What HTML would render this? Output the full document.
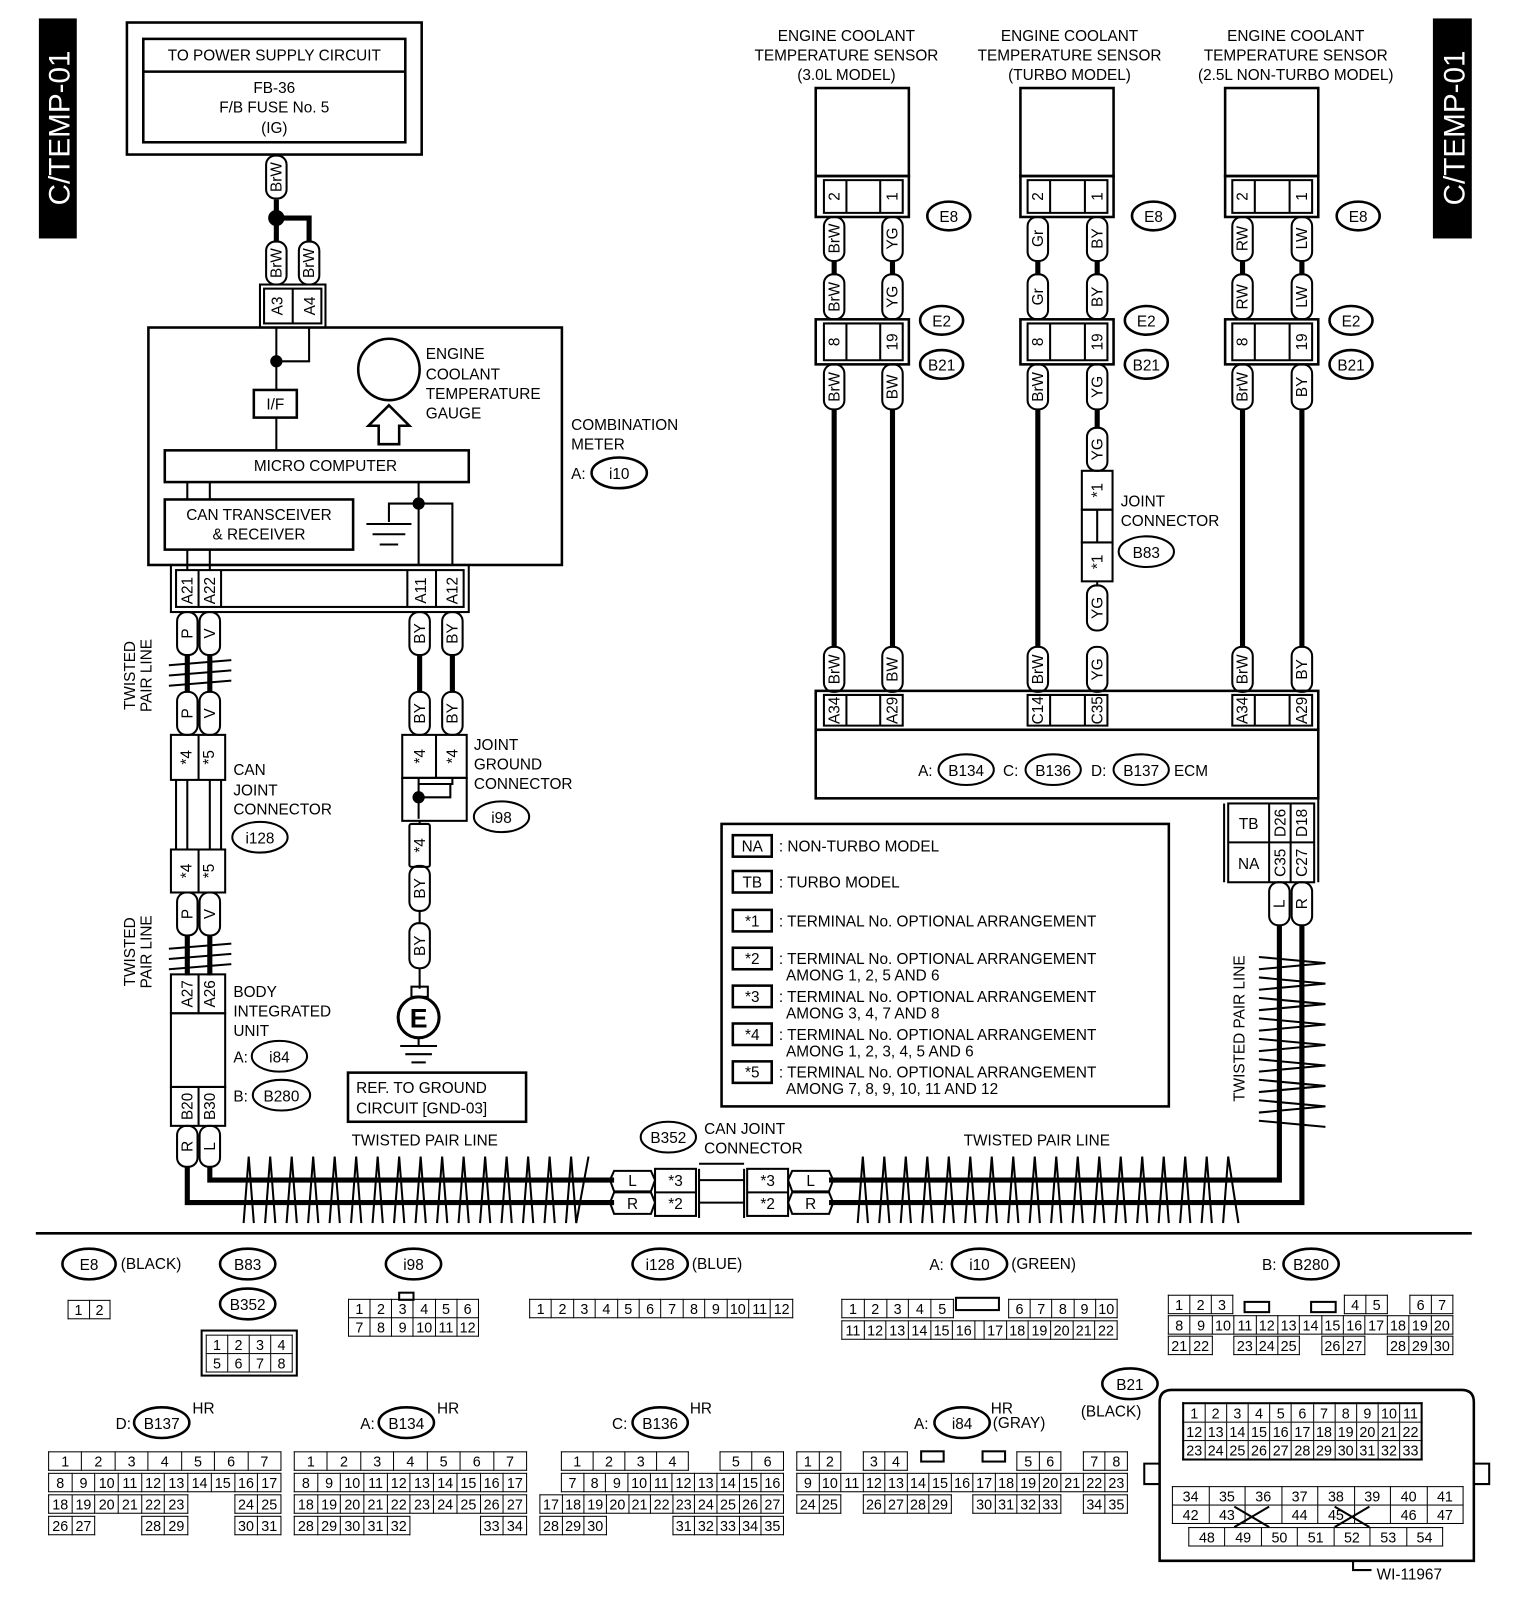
<!DOCTYPE html>
<html><head><meta charset="utf-8"><style>
html,body{margin:0;padding:0;background:#fff;width:1520px;height:1604px;overflow:hidden;}
#w{position:relative;width:1520px;height:1604px;font-family:"Liberation Sans",sans-serif;transform:scale(1.0235);transform-origin:0 0;}
svg{position:absolute;left:0;top:0;}
svg text{font-family:"Liberation Sans",sans-serif;font-size:15px;fill:#000;}
.c{text-anchor:middle;}
.g{position:absolute;border-collapse:collapse;table-layout:fixed;font:14px "Liberation Sans",sans-serif;}
.g td{border:1.6px solid #000;height:17px;padding:0;text-align:center;line-height:16px;overflow:hidden;white-space:nowrap;}
.g td.e{border-left:none;border-right:none;border-top:none;border-bottom:none;}
</style></head><body><div id="w">
<svg width="1520" height="1604" viewBox="0 0 1520 1604" fill="none" stroke="#000" stroke-width="2">
<rect x="38" y="18" width="37" height="215" fill="#000" stroke="none"/>
<text transform="translate(68,125) rotate(-90)" class="c" style="fill:#fff;font-size:29px;" stroke="none">C/TEMP-01</text>
<rect x="1400" y="18" width="38" height="215" fill="#000" stroke="none"/>
<text transform="translate(1431,125) rotate(-90)" class="c" style="fill:#fff;font-size:29px;" stroke="none">C/TEMP-01</text>

<rect x="124" y="22" width="288" height="129" stroke-width="2.5"/>
<rect x="140" y="38" width="256" height="101" stroke-width="2.5"/>
<line x1="140" y1="70" x2="396" y2="70" stroke-width="2.5"/>
<g stroke="none">
<text x="268" y="59" class="c">TO POWER SUPPLY CIRCUIT</text>
<text x="268" y="91" class="c">FB-36</text>
<text x="268" y="110" class="c">F/B FUSE No. 5</text>
<text x="268" y="130" class="c">(IG)</text>
</g>

<g stroke-width="5">
<polyline points="270,195 270,213 302,213 302,236"/>
<line x1="270" y1="213" x2="270" y2="236"/>
<line x1="183" y1="640" x2="183" y2="676"/><line x1="205" y1="640" x2="205" y2="676"/>
<line x1="183" y1="913" x2="183" y2="953"/><line x1="205" y1="913" x2="205" y2="953"/>
<line x1="410" y1="640" x2="410" y2="676"/><line x1="442" y1="640" x2="442" y2="676"/>
<polyline points="183,1140 183,1175 600,1175"/>
<polyline points="205,1140 205,1153 600,1153"/>
<polyline points="810,1153 1250,1153 1250,904"/>
<polyline points="810,1175 1272,1175 1272,904"/>
<line x1="815" y1="400" x2="815" y2="632"/><line x1="872" y1="400" x2="872" y2="632"/>
<line x1="1014" y1="400" x2="1014" y2="632"/><line x1="1072" y1="400" x2="1072" y2="418"/>
<line x1="1214" y1="400" x2="1214" y2="632"/><line x1="1272" y1="400" x2="1272" y2="632"/>
<line x1="815" y1="255" x2="815" y2="268"/><line x1="872" y1="255" x2="872" y2="268"/>
<line x1="1014" y1="255" x2="1014" y2="268"/><line x1="1072" y1="255" x2="1072" y2="268"/>
<line x1="1214" y1="255" x2="1214" y2="268"/><line x1="1272" y1="255" x2="1272" y2="268"/>
</g>
<circle cx="270" cy="213" r="7" fill="#000"/>

<rect x="254" y="278" width="64" height="42"/><rect x="258" y="282" width="56" height="34"/>
<line x1="286" y1="282" x2="286" y2="316"/>
<text transform="translate(276,299) rotate(-90)" class="c" stroke="none">A3</text>
<text transform="translate(308,299) rotate(-90)" class="c" stroke="none">A4</text>

<rect x="145" y="320" width="404" height="232" stroke-width="2.5"/>
<polyline points="270,320 270,381"/><polyline points="302,320 302,353 270,353"/>
<circle cx="270" cy="353" r="5" fill="#000"/>
<rect x="248" y="381" width="42" height="27" stroke-width="2.5"/>
<text x="269" y="400" class="c" stroke="none">I/F</text>
<line x1="270" y1="408" x2="270" y2="440"/>
<circle cx="380" cy="361" r="30" stroke-width="2.5"/>
<polygon points="380,396 400,416 390,416 390,434 370,434 370,416 360,416" stroke-width="2.5"/>
<g stroke="none"><text x="416" y="351">ENGINE</text><text x="416" y="371">COOLANT</text><text x="416" y="390">TEMPERATURE</text><text x="416" y="409">GAUGE</text>
<text x="558" y="420">COMBINATION</text><text x="558" y="439">METER</text><text x="558" y="468">A:</text></g>
<ellipse cx="605" cy="462" rx="27" ry="15" stroke-width="2.5"/><text x="605" y="468" class="c" stroke="none">i10</text>
<rect x="161" y="440" width="297" height="31" stroke-width="2.5"/>
<text x="318" y="460" class="c" stroke="none">MICRO COMPUTER</text>
<rect x="161" y="488" width="184" height="49" stroke-width="2.5"/>
<text x="253" y="508" class="c" stroke="none">CAN TRANSCEIVER</text>
<text x="253" y="527" class="c" stroke="none">&amp; RECEIVER</text>
<line x1="183" y1="471" x2="183" y2="488"/><line x1="205" y1="471" x2="205" y2="488"/>
<line x1="183" y1="537" x2="183" y2="557"/><line x1="205" y1="537" x2="205" y2="557"/>
<polyline points="409,471 409,552"/><polyline points="409,492 442,492 442,552"/>
<polyline points="409,492 380,492 380,510"/>
<line x1="358" y1="512" x2="402" y2="512"/><line x1="364" y1="522" x2="396" y2="522"/><line x1="371" y1="532" x2="389" y2="532"/>
<circle cx="409" cy="492" r="5" fill="#000"/>

<rect x="167" y="552" width="291" height="46"/>
<rect x="172" y="557" width="281" height="36"/>
<line x1="194" y1="557" x2="194" y2="593"/><line x1="216" y1="557" x2="216" y2="593"/>
<line x1="398" y1="557" x2="398" y2="593"/><line x1="426" y1="557" x2="426" y2="593"/>
<g stroke="none">
<text transform="translate(188,577) rotate(-90)" class="c">A21</text>
<text transform="translate(210,577) rotate(-90)" class="c">A22</text>
<text transform="translate(416,577) rotate(-90)" class="c">A11</text>
<text transform="translate(447,577) rotate(-90)" class="c">A12</text>
</g>

<g stroke-width="2">
<rect x="260" y="152" width="20" height="42" rx="9"/>
<rect x="260" y="236" width="20" height="42" rx="9"/><rect x="292" y="236" width="20" height="42" rx="9"/>
<rect x="173" y="598" width="20" height="42" rx="9"/><rect x="195" y="598" width="20" height="42" rx="9"/>
<rect x="173" y="676" width="20" height="42" rx="9"/><rect x="195" y="676" width="20" height="42" rx="9"/>
<rect x="173" y="872" width="20" height="42" rx="9"/><rect x="195" y="872" width="20" height="42" rx="9"/>
<rect x="173" y="1100" width="20" height="40" rx="9"/><rect x="195" y="1100" width="20" height="40" rx="9"/>
<rect x="400" y="598" width="20" height="42" rx="9"/><rect x="432" y="598" width="20" height="42" rx="9"/>
<rect x="400" y="676" width="20" height="42" rx="9"/><rect x="432" y="676" width="20" height="42" rx="9"/>
<rect x="400" y="846" width="20" height="44" rx="9"/>
<rect x="400" y="902" width="20" height="44" rx="9"/>
<rect x="805" y="212" width="20" height="43" rx="9"/><rect x="862" y="212" width="20" height="43" rx="9"/>
<rect x="805" y="268" width="20" height="44" rx="9"/><rect x="862" y="268" width="20" height="44" rx="9"/>
<rect x="805" y="356" width="20" height="44" rx="9"/><rect x="862" y="356" width="20" height="44" rx="9"/>
<rect x="805" y="632" width="20" height="44" rx="9"/><rect x="862" y="632" width="20" height="44" rx="9"/>
<rect x="1004" y="212" width="20" height="43" rx="9"/><rect x="1062" y="212" width="20" height="43" rx="9"/>
<rect x="1004" y="268" width="20" height="44" rx="9"/><rect x="1062" y="268" width="20" height="44" rx="9"/>
<rect x="1004" y="356" width="20" height="44" rx="9"/><rect x="1062" y="356" width="20" height="44" rx="9"/>
<rect x="1004" y="632" width="20" height="44" rx="9"/><rect x="1062" y="632" width="20" height="44" rx="9"/>
<rect x="1062" y="418" width="20" height="42" rx="9"/><rect x="1062" y="572" width="20" height="44" rx="9"/>
<rect x="1204" y="212" width="20" height="43" rx="9"/><rect x="1262" y="212" width="20" height="43" rx="9"/>
<rect x="1204" y="268" width="20" height="44" rx="9"/><rect x="1262" y="268" width="20" height="44" rx="9"/>
<rect x="1204" y="356" width="20" height="44" rx="9"/><rect x="1262" y="356" width="20" height="44" rx="9"/>
<rect x="1204" y="632" width="20" height="44" rx="9"/><rect x="1262" y="632" width="20" height="44" rx="9"/>
<rect x="1240" y="862" width="20" height="42" rx="9"/><rect x="1262" y="862" width="20" height="42" rx="9"/>
</g>
<g stroke="none">
<text transform="translate(275,173) rotate(-90)" class="c">BrW</text>
<text transform="translate(275,257) rotate(-90)" class="c">BrW</text><text transform="translate(307,257) rotate(-90)" class="c">BrW</text>
<text transform="translate(188,619) rotate(-90)" class="c">P</text><text transform="translate(210,619) rotate(-90)" class="c">V</text>
<text transform="translate(188,697) rotate(-90)" class="c">P</text><text transform="translate(210,697) rotate(-90)" class="c">V</text>
<text transform="translate(188,893) rotate(-90)" class="c">P</text><text transform="translate(210,893) rotate(-90)" class="c">V</text>
<text transform="translate(188,1120) rotate(-90)" class="c">R</text><text transform="translate(210,1120) rotate(-90)" class="c">L</text>
<text transform="translate(415,619) rotate(-90)" class="c">BY</text><text transform="translate(447,619) rotate(-90)" class="c">BY</text>
<text transform="translate(415,697) rotate(-90)" class="c">BY</text><text transform="translate(447,697) rotate(-90)" class="c">BY</text>
<text transform="translate(415,868) rotate(-90)" class="c">BY</text>
<text transform="translate(415,924) rotate(-90)" class="c">BY</text>
<text transform="translate(820,233) rotate(-90)" class="c">BrW</text><text transform="translate(877,233) rotate(-90)" class="c">YG</text>
<text transform="translate(820,290) rotate(-90)" class="c">BrW</text><text transform="translate(877,290) rotate(-90)" class="c">YG</text>
<text transform="translate(820,378) rotate(-90)" class="c">BrW</text><text transform="translate(877,378) rotate(-90)" class="c">BW</text>
<text transform="translate(820,654) rotate(-90)" class="c">BrW</text><text transform="translate(877,654) rotate(-90)" class="c">BW</text>
<text transform="translate(1019,233) rotate(-90)" class="c">Gr</text><text transform="translate(1077,233) rotate(-90)" class="c">BY</text>
<text transform="translate(1019,290) rotate(-90)" class="c">Gr</text><text transform="translate(1077,290) rotate(-90)" class="c">BY</text>
<text transform="translate(1019,378) rotate(-90)" class="c">BrW</text><text transform="translate(1077,378) rotate(-90)" class="c">YG</text>
<text transform="translate(1019,654) rotate(-90)" class="c">BrW</text><text transform="translate(1077,654) rotate(-90)" class="c">YG</text>
<text transform="translate(1077,439) rotate(-90)" class="c">YG</text><text transform="translate(1077,594) rotate(-90)" class="c">YG</text>
<text transform="translate(1219,233) rotate(-90)" class="c">RW</text><text transform="translate(1277,233) rotate(-90)" class="c">LW</text>
<text transform="translate(1219,290) rotate(-90)" class="c">RW</text><text transform="translate(1277,290) rotate(-90)" class="c">LW</text>
<text transform="translate(1219,378) rotate(-90)" class="c">BrW</text><text transform="translate(1277,378) rotate(-90)" class="c">BY</text>
<text transform="translate(1219,654) rotate(-90)" class="c">BrW</text><text transform="translate(1277,654) rotate(-90)" class="c">BY</text>
<text transform="translate(1255,883) rotate(-90)" class="c">L</text><text transform="translate(1277,883) rotate(-90)" class="c">R</text>
</g>

<path d="M165,650 L226,645 M165,660 L226,655 M165,670 L226,665 M165,927 L226,922 M165,937 L226,932 M165,947 L226,942"/>
<text transform="translate(132,660) rotate(-90)" class="c" stroke="none">TWISTED</text>
<text transform="translate(148,660) rotate(-90)" class="c" stroke="none">PAIR LINE</text>
<text transform="translate(132,930) rotate(-90)" class="c" stroke="none">TWISTED</text>
<text transform="translate(148,930) rotate(-90)" class="c" stroke="none">PAIR LINE</text>

<rect x="167" y="718" width="53" height="44"/><line x1="194" y1="718" x2="194" y2="762"/>
<line x1="172" y1="762" x2="172" y2="830"/><line x1="183" y1="762" x2="183" y2="830"/><line x1="205" y1="762" x2="205" y2="830"/><line x1="216" y1="762" x2="216" y2="830"/>
<rect x="167" y="830" width="53" height="42"/><line x1="194" y1="830" x2="194" y2="872"/>
<g stroke="none">
<text transform="translate(187,740) rotate(-90)" class="c">*4</text><text transform="translate(209,740) rotate(-90)" class="c">*5</text>
<text transform="translate(187,851) rotate(-90)" class="c">*4</text><text transform="translate(209,851) rotate(-90)" class="c">*5</text>
<text x="228" y="757">CAN</text><text x="228" y="777">JOINT</text><text x="228" y="796">CONNECTOR</text>
</g>
<ellipse cx="254" cy="818" rx="27" ry="15"/><text x="254" y="824" class="c" stroke="none">i128</text>

<rect x="167" y="952" width="53" height="38"/><line x1="194" y1="952" x2="194" y2="990"/>
<rect x="167" y="990" width="53" height="72"/>
<rect x="167" y="1062" width="53" height="38"/><line x1="194" y1="1062" x2="194" y2="1100"/>
<g stroke="none">
<text transform="translate(188,971) rotate(-90)" class="c">A27</text><text transform="translate(210,971) rotate(-90)" class="c">A26</text>
<text transform="translate(188,1081) rotate(-90)" class="c">B20</text><text transform="translate(210,1081) rotate(-90)" class="c">B30</text>
<text x="228" y="974">BODY</text><text x="228" y="993">INTEGRATED</text><text x="228" y="1012">UNIT</text>
<text x="228" y="1038">A:</text><text x="228" y="1076">B:</text>
</g>
<ellipse cx="273" cy="1032" rx="27" ry="15"/><text x="273" y="1038" class="c" stroke="none">i84</text>
<ellipse cx="275" cy="1070" rx="28" ry="15"/><text x="275" y="1076" class="c" stroke="none">B280</text>

<rect x="393" y="718" width="63" height="42"/><line x1="426" y1="718" x2="426" y2="760"/>
<rect x="393" y="760" width="63" height="42"/>
<polyline points="409,760 409,800"/><polyline points="442,760 442,766 409,766"/>
<polyline points="409,779 440,779 440,766"/>
<circle cx="409" cy="779" r="5" fill="#000"/>
<rect x="400" y="805" width="20" height="42" rx="2"/>
<line x1="410" y1="802" x2="410" y2="805"/>
<g stroke="none">
<text transform="translate(415,739) rotate(-90)" class="c">*4</text><text transform="translate(447,739) rotate(-90)" class="c">*4</text>
<text transform="translate(415,826) rotate(-90)" class="c">*4</text>
<text x="463" y="733">JOINT</text><text x="463" y="752">GROUND</text><text x="463" y="771">CONNECTOR</text>
</g>
<ellipse cx="490" cy="798" rx="27" ry="15"/><text x="490" y="804" class="c" stroke="none">i98</text>
<line x1="410" y1="890" x2="410" y2="902"/>
<line x1="410" y1="946" x2="410" y2="966"/><rect x="402" y="964" width="16" height="10"/>
<circle cx="409" cy="994" r="20" stroke-width="3"/>
<text x="409" y="1004" class="c" stroke="none" style="font-size:26px;font-weight:bold">E</text>
<line x1="409" y1="1014" x2="409" y2="1022"/>
<line x1="391" y1="1022" x2="427" y2="1022"/><line x1="396" y1="1030" x2="422" y2="1030"/><line x1="402" y1="1038" x2="416" y2="1038"/>
<rect x="340" y="1048" width="174" height="48" stroke-width="2.5"/>
<text x="348" y="1068" stroke="none">REF. TO GROUND</text>
<text x="348" y="1088" stroke="none">CIRCUIT [GND-03]</text>

<text x="415" y="1119" class="c" stroke="none">TWISTED PAIR LINE</text>
<text x="1013" y="1119" class="c" stroke="none">TWISTED PAIR LINE</text>
<path d="M238,1195 L243,1130 L248,1195 M259,1195 L264,1130 L269,1195 M280,1195 L285,1130 L290,1195 M301,1195 L306,1130 L311,1195 M322,1195 L327,1130 L332,1195 M343,1195 L348,1130 L353,1195 M364,1195 L369,1130 L374,1195 M385,1195 L390,1130 L395,1195 M406,1195 L411,1130 L416,1195 M427,1195 L432,1130 L437,1195 M448,1195 L453,1130 L458,1195 M469,1195 L474,1130 L479,1195 M490,1195 L495,1130 L500,1195 M511,1195 L516,1130 L521,1195 M532,1195 L537,1130 L542,1195 M553,1195 L558,1130 L563,1195 L575,1130"/>
<path d="M838,1195 L843,1130 L848,1195 M859,1195 L864,1130 L869,1195 M880,1195 L885,1130 L890,1195 M901,1195 L906,1130 L911,1195 M922,1195 L927,1130 L932,1195 M943,1195 L948,1130 L953,1195 M964,1195 L969,1130 L974,1195 M985,1195 L990,1130 L995,1195 M1006,1195 L1011,1130 L1016,1195 M1027,1195 L1032,1130 L1037,1195 M1048,1195 L1053,1130 L1058,1195 M1069,1195 L1074,1130 L1079,1195 M1090,1195 L1095,1130 L1100,1195 M1111,1195 L1116,1130 L1121,1195 M1132,1195 L1137,1130 L1142,1195 M1153,1195 L1158,1130 L1163,1195 M1174,1195 L1179,1130 L1184,1195 M1195,1195 L1200,1130 L1210,1195"/>
<path d="M1230,935 L1295,941 L1230,947 M1230,955 L1295,961 L1230,967 M1230,975 L1295,981 L1230,987 M1230,995 L1295,1001 L1230,1007 M1230,1015 L1295,1021 L1230,1027 M1230,1035 L1295,1041 L1230,1047 M1230,1055 L1295,1061 L1230,1067 M1230,1075 L1295,1081 L1230,1087 M1230,1095 L1295,1101"/>
<text transform="translate(1216,1005) rotate(-90)" class="c" stroke="none">TWISTED PAIR LINE</text>

<ellipse cx="653" cy="1111" rx="27" ry="15"/><text x="653" y="1117" class="c" stroke="none">B352</text>
<text x="688" y="1108" stroke="none">CAN JOINT</text><text x="688" y="1127" stroke="none">CONNECTOR</text>
<path d="M600,1144 L636,1144 L640,1153 L636,1164 L600,1164 L596,1153 Z M600,1165 L636,1165 L640,1175 L636,1186 L600,1186 L596,1175 Z"/>
<path d="M774,1144 L810,1144 L814,1153 L810,1164 L774,1164 L770,1153 Z M774,1165 L810,1165 L814,1175 L810,1186 L774,1186 L770,1175 Z"/>
<rect x="640" y="1142" width="40" height="46"/><line x1="640" y1="1165" x2="680" y2="1165"/>
<rect x="730" y="1142" width="40" height="46"/><line x1="730" y1="1165" x2="770" y2="1165"/>
<line x1="683" y1="1137" x2="727" y2="1137"/>
<line x1="683" y1="1142" x2="683" y2="1190"/><line x1="727" y1="1142" x2="727" y2="1190"/>
<line x1="683" y1="1153" x2="727" y2="1153"/><line x1="683" y1="1175" x2="727" y2="1175"/>
<g stroke="none">
<text x="618" y="1159" class="c">L</text><text x="618" y="1181" class="c">R</text>
<text x="660" y="1159" class="c">*3</text><text x="660" y="1181" class="c">*2</text>
<text x="750" y="1159" class="c">*3</text><text x="750" y="1181" class="c">*2</text>
<text x="792" y="1159" class="c">L</text><text x="792" y="1181" class="c">R</text>
</g>

<g stroke="none">
<text x="827" y="40" class="c">ENGINE COOLANT</text><text x="827" y="59" class="c">TEMPERATURE SENSOR</text><text x="827" y="78" class="c">(3.0L MODEL)</text>
<text x="1045" y="40" class="c">ENGINE COOLANT</text><text x="1045" y="59" class="c">TEMPERATURE SENSOR</text><text x="1045" y="78" class="c">(TURBO MODEL)</text>
<text x="1266" y="40" class="c">ENGINE COOLANT</text><text x="1266" y="59" class="c">TEMPERATURE SENSOR</text><text x="1266" y="78" class="c">(2.5L NON-TURBO MODEL)</text>
</g>
<g stroke-width="2.5">
<rect x="797" y="86" width="91" height="86"/><rect x="797" y="172" width="91" height="40"/>
<rect x="997" y="86" width="91" height="86"/><rect x="997" y="172" width="91" height="40"/>
<rect x="1197" y="86" width="91" height="86"/><rect x="1197" y="172" width="91" height="40"/>
<rect x="797" y="312" width="91" height="44"/><rect x="997" y="312" width="91" height="44"/><rect x="1197" y="312" width="91" height="44"/>
</g>
<path d="M805,176 V208 H882 V176 Z M827,176 V208 M860,176 V208 M1004,176 V208 H1082 V176 Z M1026,176 V208 M1060,176 V208 M1204,176 V208 H1282 V176 Z M1226,176 V208 M1260,176 V208"/>
<path d="M805,316 V352 H882 V316 Z M827,316 V352 M860,316 V352 M1004,316 V352 H1082 V316 Z M1026,316 V352 M1060,316 V352 M1204,316 V352 H1282 V316 Z M1226,316 V352 M1260,316 V352"/>
<g stroke="none">
<text transform="translate(820,192) rotate(-90)" class="c">2</text><text transform="translate(877,192) rotate(-90)" class="c">1</text>
<text transform="translate(1019,192) rotate(-90)" class="c">2</text><text transform="translate(1077,192) rotate(-90)" class="c">1</text>
<text transform="translate(1219,192) rotate(-90)" class="c">2</text><text transform="translate(1277,192) rotate(-90)" class="c">1</text>
<text transform="translate(820,334) rotate(-90)" class="c">8</text><text transform="translate(877,334) rotate(-90)" class="c">19</text>
<text transform="translate(1019,334) rotate(-90)" class="c">8</text><text transform="translate(1077,334) rotate(-90)" class="c">19</text>
<text transform="translate(1219,334) rotate(-90)" class="c">8</text><text transform="translate(1277,334) rotate(-90)" class="c">19</text>
</g>
<g stroke-width="2.5">
<ellipse cx="927" cy="211" rx="21" ry="14"/><ellipse cx="1127" cy="211" rx="21" ry="14"/><ellipse cx="1327" cy="211" rx="21" ry="14"/>
<ellipse cx="920" cy="313" rx="21" ry="14"/><ellipse cx="1120" cy="313" rx="21" ry="14"/><ellipse cx="1320" cy="313" rx="21" ry="14"/>
<ellipse cx="920" cy="356" rx="21" ry="14"/><ellipse cx="1120" cy="356" rx="21" ry="14"/><ellipse cx="1320" cy="356" rx="21" ry="14"/>
</g>
<g stroke="none">
<text x="927" y="217" class="c">E8</text><text x="1127" y="217" class="c">E8</text><text x="1327" y="217" class="c">E8</text>
<text x="920" y="319" class="c">E2</text><text x="1120" y="319" class="c">E2</text><text x="1320" y="319" class="c">E2</text>
<text x="920" y="362" class="c">B21</text><text x="1120" y="362" class="c">B21</text><text x="1320" y="362" class="c">B21</text>
</g>

<rect x="1057" y="460" width="30" height="38"/><rect x="1057" y="498" width="30" height="32"/><rect x="1057" y="530" width="30" height="38"/>
<line x1="1072" y1="498" x2="1072" y2="530"/>
<line x1="1072" y1="568" x2="1072" y2="572"/>
<g stroke="none">
<text transform="translate(1077,479) rotate(-90)" class="c">*1</text><text transform="translate(1077,549) rotate(-90)" class="c">*1</text>
<text x="1095" y="495">JOINT</text><text x="1095" y="514">CONNECTOR</text>
</g>
<ellipse cx="1120" cy="539" rx="27" ry="15"/><text x="1120" y="545" class="c" stroke="none">B83</text>

<rect x="797" y="675" width="491" height="38" stroke-width="2.5"/>
<rect x="797" y="713" width="491" height="67" stroke-width="2.5"/>
<path d="M805,679 V709 H882 V679 Z M827,679 V709 M860,679 V709 M1004,679 V709 H1082 V679 Z M1026,679 V709 M1060,679 V709 M1204,679 V709 H1282 V679 Z M1226,679 V709 M1260,679 V709"/>
<g stroke="none">
<text transform="translate(820,694) rotate(-90)" class="c">A34</text><text transform="translate(877,694) rotate(-90)" class="c">A29</text>
<text transform="translate(1019,694) rotate(-90)" class="c">C14</text><text transform="translate(1077,694) rotate(-90)" class="c">C35</text>
<text transform="translate(1219,694) rotate(-90)" class="c">A34</text><text transform="translate(1277,694) rotate(-90)" class="c">A29</text>
<text x="897" y="758">A:</text><text x="980" y="758">C:</text><text x="1066" y="758">D:</text><text x="1147" y="758">ECM</text>
</g>
<ellipse cx="944" cy="752" rx="27" ry="15"/><text x="944" y="758" class="c" stroke="none">B134</text>
<ellipse cx="1029" cy="752" rx="27" ry="15"/><text x="1029" y="758" class="c" stroke="none">B136</text>
<ellipse cx="1115" cy="752" rx="27" ry="15"/><text x="1115" y="758" class="c" stroke="none">B137</text>

<line x1="1196" y1="785" x2="1196" y2="862"/><line x1="1288" y1="780" x2="1288" y2="862"/>
<rect x="1200" y="785" width="84" height="77"/>
<line x1="1240" y1="785" x2="1240" y2="862"/><line x1="1261" y1="785" x2="1261" y2="862"/><line x1="1200" y1="823" x2="1284" y2="823"/>
<g stroke="none">
<text x="1220" y="810" class="c">TB</text><text x="1220" y="849" class="c">NA</text>
<text transform="translate(1256,804) rotate(-90)" class="c">D26</text><text transform="translate(1277,804) rotate(-90)" class="c">D18</text>
<text transform="translate(1256,843) rotate(-90)" class="c">C35</text><text transform="translate(1277,843) rotate(-90)" class="c">C27</text>
</g>

<rect x="705" y="805" width="437" height="276" stroke-width="2.5"/>
<g stroke-width="2.5">
<rect x="716" y="816" width="38" height="21"/><rect x="716" y="851" width="38" height="21"/><rect x="716" y="889" width="38" height="21"/>
<rect x="716" y="926" width="38" height="21"/><rect x="716" y="963" width="38" height="21"/><rect x="716" y="1000" width="38" height="21"/><rect x="716" y="1037" width="38" height="21"/>
</g>
<g stroke="none">
<text x="735" y="832" class="c">NA</text><text x="735" y="867" class="c">TB</text><text x="735" y="905" class="c">*1</text>
<text x="735" y="942" class="c">*2</text><text x="735" y="979" class="c">*3</text><text x="735" y="1016" class="c">*4</text><text x="735" y="1053" class="c">*5</text>
<text x="761" y="832">: NON-TURBO MODEL</text>
<text x="761" y="867">: TURBO MODEL</text>
<text x="761" y="905">: TERMINAL No. OPTIONAL ARRANGEMENT</text>
<text x="761" y="942">: TERMINAL No. OPTIONAL ARRANGEMENT</text><text x="768" y="958">AMONG 1, 2, 5 AND 6</text>
<text x="761" y="979">: TERMINAL No. OPTIONAL ARRANGEMENT</text><text x="768" y="995">AMONG 3, 4, 7 AND 8</text>
<text x="761" y="1016">: TERMINAL No. OPTIONAL ARRANGEMENT</text><text x="768" y="1032">AMONG 1, 2, 3, 4, 5 AND 6</text>
<text x="761" y="1053">: TERMINAL No. OPTIONAL ARRANGEMENT</text><text x="768" y="1069">AMONG 7, 8, 9, 10, 11 AND 12</text>
</g>

<line x1="35" y1="1205" x2="1438" y2="1205" stroke-width="2.5"/>

<g stroke-width="2.5">
<ellipse cx="87" cy="1235" rx="26" ry="15"/><ellipse cx="242" cy="1235" rx="27" ry="15"/><ellipse cx="242" cy="1274" rx="27" ry="15"/>
<ellipse cx="404" cy="1235" rx="27" ry="15"/><ellipse cx="645" cy="1235" rx="27" ry="15"/><ellipse cx="957" cy="1235" rx="27" ry="15"/>
<ellipse cx="1281" cy="1235" rx="27" ry="15"/><ellipse cx="1104" cy="1352" rx="27" ry="15"/>
<ellipse cx="158" cy="1390" rx="27" ry="15"/><ellipse cx="397" cy="1390" rx="27" ry="15"/><ellipse cx="645" cy="1390" rx="27" ry="15"/><ellipse cx="940" cy="1390" rx="27" ry="15"/>
</g>
<g stroke="none">
<text x="87" y="1241" class="c">E8</text><text x="118" y="1240">(BLACK)</text>
<text x="242" y="1241" class="c">B83</text><text x="242" y="1280" class="c">B352</text>
<text x="404" y="1241" class="c">i98</text>
<text x="645" y="1241" class="c">i128</text><text x="676" y="1240">(BLUE)</text>
<text x="908" y="1241">A:</text><text x="957" y="1241" class="c">i10</text><text x="988" y="1240">(GREEN)</text>
<text x="1233" y="1241">B:</text><text x="1281" y="1241" class="c">B280</text>
<text x="1104" y="1358" class="c">B21</text><text x="1056" y="1384">(BLACK)</text>
<text x="113" y="1396">D:</text><text x="158" y="1396" class="c">B137</text><text x="188" y="1381">HR</text>
<text x="352" y="1396">A:</text><text x="397" y="1396" class="c">B134</text><text x="427" y="1381">HR</text>
<text x="598" y="1396">C:</text><text x="645" y="1396" class="c">B136</text><text x="674" y="1381">HR</text>
<text x="893" y="1396">A:</text><text x="940" y="1396" class="c">i84</text><text x="968" y="1381">HR</text><text x="970" y="1395">(GRAY)</text>
<text x="1345" y="1543">WI-11967</text>
</g>
<rect x="197" y="1300" width="93" height="44"/>
<rect x="390" y="1263" width="14" height="7"/>
<rect x="934" y="1268" width="42" height="12"/>
<rect x="1216" y="1272" width="24" height="10"/><rect x="1281" y="1272" width="24" height="10"/>
<rect x="900" y="1418" width="22" height="10"/><rect x="960" y="1418" width="22" height="10"/>
<path d="M1133,1370 Q1133,1358 1145,1358 L1428,1358 Q1440,1358 1440,1370 L1440,1525 L1133,1525 Z" stroke-width="2.5"/>
<path d="M1133,1430 H1118 V1450 H1133 M1440,1430 H1455 V1450 H1440 M1322,1525 V1534 H1340"/>
<path d="M1206,1472 L1240,1492 M1240,1472 L1206,1492 M1304,1472 L1338,1492 M1338,1472 L1304,1492"/>
</svg>

<table class="g" style="left:66px;top:1270px;width:42px"><tr><td>1</td><td>2</td></tr></table>
<table class="g" style="left:201px;top:1304px;width:85px"><tr><td>1</td><td>2</td><td>3</td><td>4</td></tr><tr><td>5</td><td>6</td><td>7</td><td>8</td></tr></table>
<table class="g" style="left:340px;top:1269px;width:128px"><tr><td>1</td><td>2</td><td>3</td><td>4</td><td>5</td><td>6</td></tr><tr><td>7</td><td>8</td><td>9</td><td>10</td><td>11</td><td>12</td></tr></table>
<table class="g" style="left:517px;top:1269px;width:258px"><tr><td>1</td><td>2</td><td>3</td><td>4</td><td>5</td><td>6</td><td>7</td><td>8</td><td>9</td><td>10</td><td>11</td><td>12</td></tr></table>
<table class="g" style="left:822px;top:1269px;width:110px"><tr><td>1</td><td>2</td><td>3</td><td>4</td><td>5</td></tr></table>
<table class="g" style="left:985px;top:1269px;width:107px"><tr><td>6</td><td>7</td><td>8</td><td>9</td><td>10</td></tr></table>
<table class="g" style="left:822px;top:1290px;width:270px"><tr><td>11</td><td>12</td><td>13</td><td>14</td><td>15</td><td>16</td><td style="width:8px"></td><td>17</td><td>18</td><td>19</td><td>20</td><td>21</td><td>22</td></tr></table>
<table class="g" style="left:1141px;top:1265px;width:64px"><tr><td>1</td><td>2</td><td>3</td></tr></table>
<table class="g" style="left:1313px;top:1265px;width:43px"><tr><td>4</td><td>5</td></tr></table>
<table class="g" style="left:1377px;top:1265px;width:43px"><tr><td>6</td><td>7</td></tr></table>
<table class="g" style="left:1141px;top:1285px;width:279px"><tr><td>8</td><td>9</td><td>10</td><td>11</td><td>12</td><td>13</td><td>14</td><td>15</td><td>16</td><td>17</td><td>18</td><td>19</td><td>20</td></tr></table>
<table class="g" style="left:1141px;top:1305px;width:279px"><tr><td>21</td><td>22</td><td class="e"></td><td>23</td><td>24</td><td>25</td><td class="e"></td><td>26</td><td>27</td><td class="e"></td><td>28</td><td>29</td><td>30</td></tr></table>

<table class="g" style="left:47px;top:1418px;width:228px"><tr><td>1</td><td>2</td><td>3</td><td>4</td><td>5</td><td>6</td><td>7</td></tr></table>
<table class="g" style="left:47px;top:1439px;width:228px"><tr><td>8</td><td>9</td><td>10</td><td>11</td><td>12</td><td>13</td><td>14</td><td>15</td><td>16</td><td>17</td></tr></table>
<table class="g" style="left:47px;top:1460px;width:228px"><tr><td>18</td><td>19</td><td>20</td><td>21</td><td>22</td><td>23</td><td class="e"></td><td class="e"></td><td>24</td><td>25</td></tr></table>
<table class="g" style="left:47px;top:1481px;width:228px"><tr><td>26</td><td>27</td><td class="e"></td><td class="e"></td><td>28</td><td>29</td><td class="e"></td><td class="e"></td><td>30</td><td>31</td></tr></table>

<table class="g" style="left:287px;top:1418px;width:228px"><tr><td>1</td><td>2</td><td>3</td><td>4</td><td>5</td><td>6</td><td>7</td></tr></table>
<table class="g" style="left:287px;top:1439px;width:228px"><tr><td>8</td><td>9</td><td>10</td><td>11</td><td>12</td><td>13</td><td>14</td><td>15</td><td>16</td><td>17</td></tr></table>
<table class="g" style="left:287px;top:1460px;width:228px"><tr><td>18</td><td>19</td><td>20</td><td>21</td><td>22</td><td>23</td><td>24</td><td>25</td><td>26</td><td>27</td></tr></table>
<table class="g" style="left:287px;top:1481px;width:228px"><tr><td>28</td><td>29</td><td>30</td><td>31</td><td>32</td><td class="e"></td><td class="e"></td><td class="e"></td><td>33</td><td>34</td></tr></table>

<table class="g" style="left:548px;top:1418px;width:218px"><tr><td>1</td><td>2</td><td>3</td><td>4</td><td class="e"></td><td>5</td><td>6</td></tr></table>
<table class="g" style="left:548px;top:1439px;width:218px"><tr><td>7</td><td>8</td><td>9</td><td>10</td><td>11</td><td>12</td><td>13</td><td>14</td><td>15</td><td>16</td></tr></table>
<table class="g" style="left:527px;top:1460px;width:239px"><tr><td>17</td><td>18</td><td>19</td><td>20</td><td>21</td><td>22</td><td>23</td><td>24</td><td>25</td><td>26</td><td>27</td></tr></table>
<table class="g" style="left:527px;top:1481px;width:239px"><tr><td>28</td><td>29</td><td>30</td><td class="e"></td><td class="e"></td><td class="e"></td><td>31</td><td>32</td><td>33</td><td>34</td><td>35</td></tr></table>

<table class="g" style="left:778px;top:1418px;width:324px"><tr><td>1</td><td>2</td><td class="e"></td><td>3</td><td>4</td><td class="e"></td><td class="e"></td><td class="e"></td><td class="e"></td><td class="e"></td><td>5</td><td>6</td><td class="e"></td><td>7</td><td>8</td></tr></table>
<table class="g" style="left:778px;top:1439px;width:324px"><tr><td>9</td><td>10</td><td>11</td><td>12</td><td>13</td><td>14</td><td>15</td><td>16</td><td>17</td><td>18</td><td>19</td><td>20</td><td>21</td><td>22</td><td>23</td></tr></table>
<table class="g" style="left:778px;top:1460px;width:324px"><tr><td>24</td><td>25</td><td class="e"></td><td>26</td><td>27</td><td>28</td><td>29</td><td class="e"></td><td>30</td><td>31</td><td>32</td><td>33</td><td class="e"></td><td>34</td><td>35</td></tr></table>

<table class="g" style="left:1155px;top:1370px;width:235px;border:2.5px solid #000"><tr><td>1</td><td>2</td><td>3</td><td>4</td><td>5</td><td>6</td><td>7</td><td>8</td><td>9</td><td>10</td><td>11</td></tr><tr><td>12</td><td>13</td><td>14</td><td>15</td><td>16</td><td>17</td><td>18</td><td>19</td><td>20</td><td>21</td><td>22</td></tr><tr><td>23</td><td>24</td><td>25</td><td>26</td><td>27</td><td>28</td><td>29</td><td>30</td><td>31</td><td>32</td><td>33</td></tr></table>
<table class="g" style="left:1145px;top:1452px;width:285px"><tr><td>34</td><td>35</td><td>36</td><td>37</td><td>38</td><td>39</td><td>40</td><td>41</td></tr><tr><td>42</td><td>43</td><td></td><td>44</td><td>45</td><td></td><td>46</td><td>47</td></tr></table>
<table class="g" style="left:1161px;top:1492px;width:249px"><tr><td>48</td><td>49</td><td>50</td><td>51</td><td>52</td><td>53</td><td>54</td></tr></table>
</div>
</body></html>
